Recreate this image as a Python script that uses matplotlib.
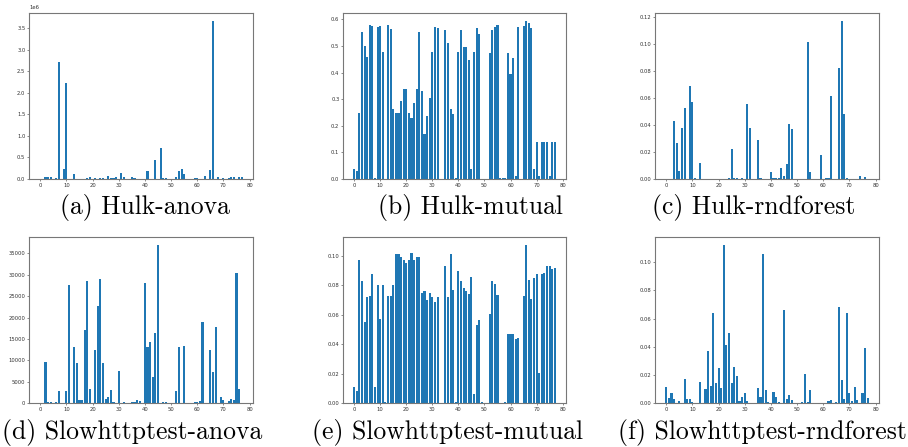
import matplotlib
matplotlib.use("Agg")
import matplotlib.pyplot as plt
from matplotlib.ticker import MultipleLocator
import numpy as np

features = list(range(78))

hulk_anova = [
    0, 0, 40000, 45000, 35000, 0, 30000, 2720000, 0, 230000,
    2230000, 0, 0, 110000, 0, 0, 0, 0, 30000, 35000,
    0, 20000, 0, 20000, 30000, 0, 60000, 30000, 30000, 40000,
    0, 140000, 50000, 0, 0, 40000, 30000, 0, 0, 0,
    0, 190000, 10000, 0, 430000, 0, 710000, 30000, 20000, 0,
    0, 0, 40000, 190000, 230000, 120000, 0, 0, 0, 20000,
    15000, 0, 0, 80000, 0, 220000, 3670000, 0, 40000, 0,
    30000, 0, 20000, 40000, 35000, 0, 40000, 40000,
]

hulk_mutual = [
    0.037, 0.030, 0.247, 0.553, 0.500, 0.460, 0.577, 0.575, 0.005, 0.572,
    0.575, 0.477, 0.000, 0.578, 0.563, 0.262, 0.248, 0.248, 0.293, 0.340,
    0.340, 0.248, 0.230, 0.286, 0.340, 0.553, 0.331, 0.170, 0.237, 0.305,
    0.478, 0.572, 0.566, 0.000, 0.000, 0.561, 0.511, 0.262, 0.245, 0.003,
    0.477, 0.561, 0.495, 0.495, 0.448, 0.036, 0.477, 0.568, 0.546, 0.000,
    0.000, 0.000, 0.474, 0.561, 0.572, 0.580, 0.002, 0.002, 0.003, 0.472,
    0.396, 0.454, 0.010, 0.570, 0.000, 0.576, 0.594, 0.585, 0.567, 0.036,
    0.138, 0.010, 0.138, 0.140, 0.138, 0.010, 0.138, 0.140,
]

hulk_rndforest = [
    0, 0, 0, 0.043, 0.0265, 0.006, 0.0375, 0.053, 0, 0.069,
    0.057, 0.0005, 0, 0.012, 0, 0, 0, 0, 0, 0,
    0, 0, 0, 0, 0.0005, 0.022, 0.0005, 0.0005, 0, 0.0008,
    0, 0.0556, 0.038, 0, 0, 0.029, 0.0008, 0, 0, 0,
    0.0055, 0.0005, 0.0005, 0.0005, 0.008, 0.0025, 0.011, 0.041, 0.037, 0,
    0, 0, 0, 0, 0.1018, 0.005, 0, 0, 0, 0.0175,
    0, 0.0005, 0.0005, 0.0616, 0, 0, 0.0823, 0.1173, 0.0483, 0.001,
    0, 0, 0, 0, 0.0025, 0, 0.0015, 0,
]

slow_anova = [
    0, 0, 9500, 300, 250, 0, 250, 2800, 0, 0,
    2900, 27600, 0, 13200, 9400, 700, 700, 17200, 28600, 3300,
    0, 12500, 22600, 29000, 9400, 1000, 1500, 3000, 200, 0,
    7600, 0, 300, 0, 0, 300, 300, 800, 500, 0,
    28000, 13100, 14300, 6200, 16300, 37000, 0, 300, 300, 0,
    0, 0, 2800, 13100, 0, 13300, 0, 0, 0, 300,
    300, 500, 19000, 0, 0, 12500, 7300, 17900, 0, 1500,
    700, 0, 500, 1000, 800, 30400, 3200, 0,
]

slow_mutual = [
    0.011, 0.008, 0.097, 0.083, 0.055, 0.072, 0.073, 0.0874, 0.011, 0.080,
    0.057, 0.080, 0.001, 0.073, 0.0725, 0.080, 0.101, 0.1015, 0.099, 0.0975,
    0.0955, 0.097, 0.102, 0.0975, 0.0995, 0.099, 0.075, 0.076, 0.070, 0.075,
    0.072, 0.069, 0.072, 0, 0, 0.093, 0.0718, 0.1016, 0.0767, 0.001,
    0.090, 0.0828, 0.0779, 0.076, 0.0743, 0.0858, 0.006, 0.053, 0.0562, 0.0005,
    0, 0, 0.0605, 0.083, 0.0806, 0.0731, 0, 0, 0.0005, 0.0467,
    0.0467, 0.0467, 0.0436, 0.0445, 0, 0.073, 0.1075, 0.0835, 0.0707, 0.0849,
    0.0876, 0.0203, 0.0876, 0.0883, 0.093, 0.093, 0.0914, 0.0915,
]

slow_rndforest = [
    0.0111, 0.0035, 0.0071, 0.003, 0, 0.0015, 0, 0.0167, 0.003, 0.003,
    0.001, 0, 0, 0.0151, 0, 0.0097, 0.0366, 0.012, 0.0637, 0.0145,
    0.025, 0.011, 0.1123, 0.041, 0.0495, 0.014, 0.0257, 0.0189, 0.0015, 0.0042,
    0.0068, 0.0015, 0, 0, 0, 0.0104, 0.0045, 0.1061, 0.0092, 0.001,
    0, 0.0075, 0.0045, 0.001, 0, 0.066, 0.0025, 0.0055, 0.002, 0,
    0, 0, 0.001, 0.0207, 0.0008, 0.009, 0, 0, 0, 0,
    0, 0, 0.0015, 0.002, 0, 0.0005, 0.0679, 0.0163, 0.003, 0.0637,
    0.0068, 0.0015, 0.0111, 0.002, 0, 0.007, 0.0394, 0.0035,
]

captions = [
    "(a) Hulk-anova", "(b) Hulk-mutual", "(c) Hulk-rndforest",
    "(d) Slowhttptest-anova", "(e) Slowhttptest-mutual", "(f) Slowhttptest-rndforest",
]

panels = [
    (hulk_anova, 500000),
    (hulk_mutual, 0.1),
    (hulk_rndforest, 0.02),
    (slow_anova, 5000),
    (slow_mutual, 0.02),
    (slow_rndforest, 0.02),
]

W, H = 908, 447
fig = plt.figure(figsize=(W / 100, H / 100), dpi=100)

# axes boxes in pixels: left, top, right, bottom
col_x = [(29, 253), (343, 566), (655, 879)]
row_y = [(13, 179), (237, 403)]
caption_x = [145, 470, 754, 132, 448, 762]
caption_y = [208, 432]

tick_fs = 3.8
for i, ((vals, step), cap) in enumerate(zip(panels, captions)):
    r, c = divmod(i, 3)
    x0, x1 = col_x[c]
    y0, y1 = row_y[r]
    ax = fig.add_axes([x0 / W, 1 - y1 / H, (x1 - x0) / W, (y1 - y0) / H])
    ax.bar(features, vals, width=0.8, color="#1f77b4")
    ax.yaxis.set_major_locator(MultipleLocator(step))
    ax.xaxis.set_major_locator(MultipleLocator(10))
    ax.tick_params(labelsize=tick_fs, length=1.4, width=0.4, pad=1.2,
                   colors="#333333")
    ax.yaxis.get_offset_text().set_fontsize(tick_fs)
    ax.yaxis.get_offset_text().set_color("#333333")
    for s in ax.spines.values():
        s.set_linewidth(0.8)
        s.set_color("#777777")
    fig.text(caption_x[i] / W, 1 - caption_y[r] / H, cap,
             family="cmr10", fontsize=18.5, ha="center", va="center")

fig.savefig("out.png", dpi=100)
